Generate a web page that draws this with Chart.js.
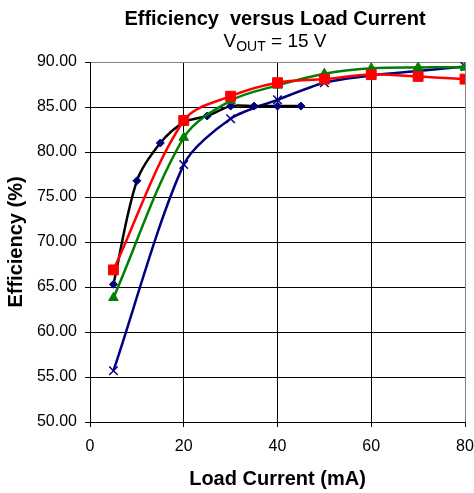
<!DOCTYPE html>
<html>
<head>
<meta charset="utf-8">
<script src="https://cdn.jsdelivr.net/npm/chart.js@4.4.1/dist/chart.umd.min.js"></script>
<style>
  html, body { margin: 0; padding: 0; background: #fff; }
  #wrap { position: relative; width: 474px; height: 493px; }
  .ttl { position: absolute; left: 275px; transform: translateX(-50%); white-space: nowrap;
         font-family: "Liberation Sans", Arial, sans-serif; color: #000; line-height: 24px; }
  #t1 { top: 6px; font-size: 20px; font-weight: bold; }
  #t2 { top: 29px; font-size: 19px; }
  #t2 sub { font-size: 14px; vertical-align: -4px; line-height: 0; }
</style>
</head>
<body>
<div id="wrap">
  <canvas id="chart" width="474" height="493"></canvas>
  <div class="ttl" id="t1">Efficiency&nbsp; versus Load Current</div>
  <div class="ttl" id="t2">V<sub>OUT</sub> = 15 V</div>
</div>
<script>
// load current (mA) for the red / green / blue curves
const loadCurrent = [5, 20, 30, 40, 50, 60, 70, 80];
// black curve has its own, finer sampling
const loadCurrentBlack = [5, 10, 15, 20, 25, 30, 35, 40, 45];

// efficiency (%)
const effRed = [66.9, 83.5, 86.2, 87.7, 88.1, 88.6, 88.4, 88.1];
const effGreen = [63.8, 81.6, 85.7, 87.4, 88.7, 89.3, 89.4, 89.4];
const effBlue = [55.7, 78.6, 83.7, 85.8, 87.7, 88.5, 89.0, 89.5];
const effBlack = [65.3, 76.8, 81.0, 83.3, 84.0, 85.1, 85.1, 85.1, 85.1];

const xTicks = [0, 20, 40, 60, 80];
const yTicks = [50, 55, 60, 65, 70, 75, 80, 85, 90];

const FONT = '"Liberation Sans", Arial, sans-serif';

const toPoints = (xs, ys) => xs.map((x, i) => ({ x: x, y: ys[i] }));

const ctx = document.getElementById("chart");
new Chart(ctx, {
  type: "line",
  data: {
    datasets: [
      {
        label: "red",
        data: toPoints(loadCurrent, effRed),
        borderColor: "#ff0000",
        backgroundColor: "#ff0000",
        pointStyle: "rect",
        pointRadius: 7,
      },
      {
        label: "green",
        data: toPoints(loadCurrent, effGreen),
        borderColor: "#008000",
        backgroundColor: "#008000",
        pointStyle: "triangle",
        pointRadius: 5.5,
      },
      {
        label: "black",
        data: toPoints(loadCurrentBlack, effBlack),
        borderColor: "#000000",
        backgroundColor: "#000080",
        pointBorderColor: "#000080",
        pointStyle: "rectRot",
        pointRadius: 4,
      },
      {
        label: "blue",
        data: toPoints(loadCurrent, effBlue),
        borderColor: "#000080",
        backgroundColor: "#000080",
        pointStyle: "crossRot",
        pointRadius: 6,
        pointBorderWidth: 1.5,
        tension: 0.28,
      },
    ],
  },
  options: {
    responsive: false,
    animation: false,
    devicePixelRatio: 1,
    elements: {
      line: { borderWidth: 2.5, tension: 0.33, fill: false },
      point: { borderWidth: 1 },
    },
    layout: { padding: { left: 0, right: 0, top: 62, bottom: 0 } },
    plugins: {
      legend: { display: false },
      tooltip: { enabled: false },
    },
    scales: {
      x: {
        type: "linear",
        min: 0,
        max: 80,
        afterBuildTicks: (s) => { s.ticks = xTicks.map((v) => ({ value: v })); },
        afterFit: (s) => { s.height = 71; s.paddingRight = 9; },
        grid: {
          color: (c) => (c.tick && c.tick.value === 80 ? "#808080" : "#000"),
          tickColor: "#000",
          tickLength: 5,
          lineWidth: 1,
        },
        border: { color: "#000", width: 1 },
        ticks: { font: { family: FONT, size: 16 }, color: "#000", padding: 10, maxRotation: 0 },
        title: {
          display: true,
          text: "Load Current (mA)",
          color: "#000",
          font: { family: FONT, size: 20, weight: "bold" },
          padding: { top: 0, bottom: 2 },
        },
      },
      y: {
        min: 50,
        max: 90,
        afterBuildTicks: (s) => { s.ticks = yTicks.map((v) => ({ value: v })); },
        afterFit: (s) => { s.width = 90; },
        grid: {
          color: (c) => (c.tick && c.tick.value === 90 ? "#808080" : "#000"),
          tickColor: "#000",
          tickLength: 5,
          lineWidth: 1,
        },
        border: { color: "#000", width: 1 },
        ticks: {
          font: { family: FONT, size: 16 },
          color: "#000",
          padding: 8,
          callback: (v) => Number(v).toFixed(2),
        },
        title: {
          display: true,
          text: "Efficiency (%)",
          color: "#000",
          font: { family: FONT, size: 20, weight: "bold" },
          padding: { top: 4, bottom: 0 },
        },
      },
    },
  },
});
</script>
</body>
</html>
